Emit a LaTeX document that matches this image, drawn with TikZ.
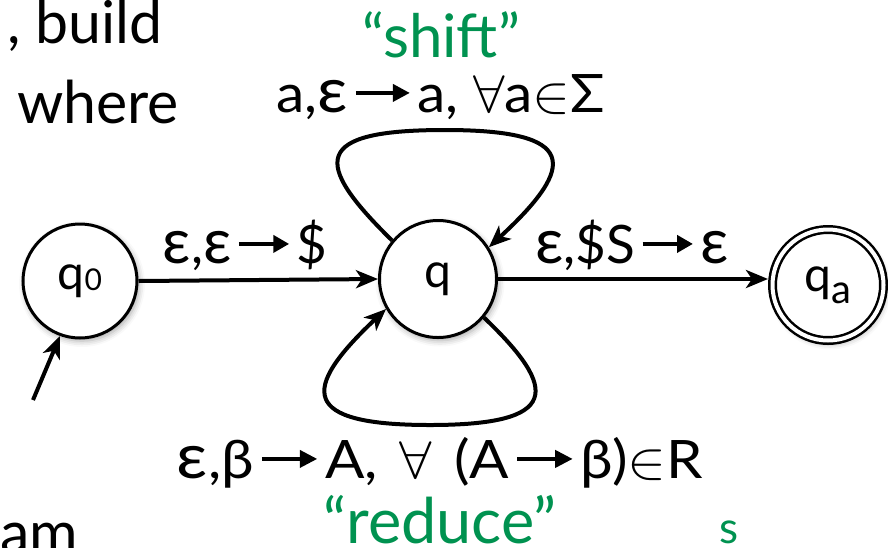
\RequirePackage{fix-cm}
\documentclass[tikz,border=0pt]{standalone}
\usepackage{fontspec}
\setmainfont{Lato}
\usetikzlibrary{arrows.meta,shadows.blur,calc}
\definecolor{gr}{RGB}{0,146,80}
\newcommand{\rarr}{\kern0.1em\tikz[baseline=-0.36em]\draw[line width=0.075em,-{Triangle[length=0.3em,width=0.32em]}] (0pt,0pt) -- (0.95em,0pt);\kern0.1em}
\newcommand{\eps}{\scalebox{1.18}{ε}}
\begin{document}
\begin{tikzpicture}[x=1pt,y=-1pt,
  st/.style={circle, draw, line width=3pt, fill=white, inner sep=0pt,
    font=\fontsize{48}{50}\selectfont,
    blur shadow={shadow xshift=2pt, shadow yshift=-3pt, shadow blur radius=6pt, shadow opacity=35}},
  edge/.style={line width=4pt, -{Stealth[length=22pt,width=18pt,inset=6pt]}},
  lab/.style={anchor=base, inner sep=0pt, font=\fontsize{53}{60}\selectfont},
  bg/.style={anchor=base west, inner sep=0pt, font=\fontsize{59}{70}\selectfont},
  green/.style={text=gr}]
\useasboundingbox (0,0) rectangle (888,547);
% background text
\node[bg] (t1) at (7,43) {, build};
\node[bg] (t2) at (17,123) {where};
\node[bg] (t3) at (0,553) {am};
% states
\node[st, minimum size=114pt] (q0) at (80,281) {q\raisebox{-0.02em}{\fontsize{30}{30}\selectfont 0}};
\node[st, minimum size=117pt] (q) at (438,279) {q};
\node[st, double, double distance=4pt, line width=2.5pt, outer sep=4.5pt, minimum size=111pt] (qa) at (828,285) {q\raisebox{-12pt}{\fontsize{40}{40}\selectfont a}};
% edges
\coordinate (init) at (33,400);
\draw[edge] (init) -- (q0.250);
\draw[edge] (q0.east) -- (q.west);
\draw[edge] (q.east) -- (q.east -| qa.west);
\draw[edge] (q.140) .. controls (312,162) and (312,130) .. (445,130) .. controls (578,130) and (578,165) .. (q.32);
\draw[edge] (q.320) .. controls (560,390) and (560,425) .. (430,425) .. controls (300,425) and (300,390) .. (q.210);
% labels
\node[lab] (l1) at (245,263) {\eps,\eps\rarr\$};
\node[lab] (l2) at (632,263) {\eps,\$S\rarr \eps};
\node[lab] (l3) at (441,112) {\scalebox{1.07}[1]{a,\eps\rarr a, $\forall$a$\in$Σ}};
\node[lab] (l4) at (440,478) {\scalebox{1.1}[1]{\eps,β\rarr A,\hspace{0.12em} $\forall$\hspace{0.12em} (A\rarr β)$\in$R}};
\node[lab, green, font=\fontsize{60}{60}\selectfont] (sh) at (441,57) {“shift”};
\node[lab, green, font=\fontsize{63}{60}\selectfont] (re) at (440,543) {“reduce”};
\node[lab, green, font=\fontsize{44}{40}\selectfont] (s) at (729,543) {s};
\end{tikzpicture}
\end{document}
